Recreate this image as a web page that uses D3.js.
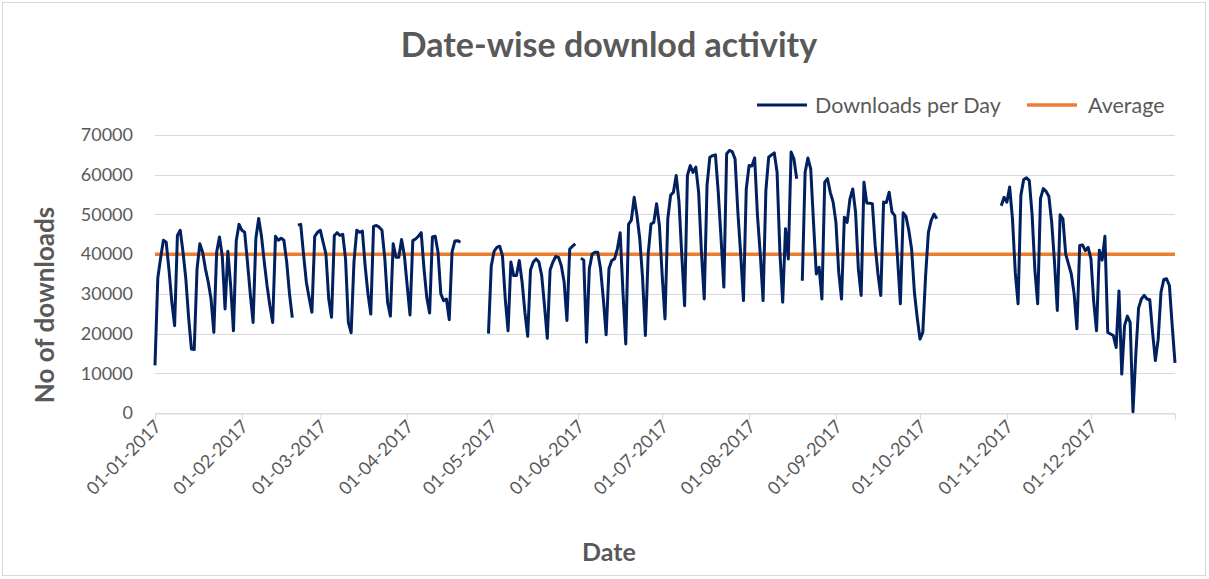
<!DOCTYPE html>
<html>
<head>
<meta charset="utf-8">
<script src="https://cdnjs.cloudflare.com/ajax/libs/d3/7.8.5/d3.min.js"></script>
<style>
  body { margin: 0; background: #fff; }
  #chart text { font-family: Lato, "Open Sans", sans-serif; fill: #595959; }
</style>
</head>
<body>
<svg id="chart" width="1209" height="579"></svg>
<script>
// downloads per day, one array per month (null = no data that day)
var jan = [12000, 34000, 39000, 43500, 43000, 36000, 28000, 22000, 44700, 46000, 40500, 33800, 24000, 16100, 16000, 36300,
           42600, 40500, 36300, 33000, 28700, 20300, 40500, 44300, 39600, 26200, 40700, 32100, 20700, 43400, 47500];
var feb = [46000, 45500, 38000, 30000, 22800, 44000, 49000, 44500, 38000, 32000, 27000, 22800, 44500, 43500,
           44000, 43500, 38000, 30000, 24000, null, 47300, 47500, 40000, 33000, 29000, 25400, 44500, 45500];
var mar = [46000, 43000, 40000, 28700, 24100, 44700, 45400, 44700, 45000, 38800, 22800, 20200, 38000, 46000, 45500,
           45800, 37000, 30000, 24900, 47000, 47200, 46800, 46000, 39000, 27900, 24400, 42600, 39200, 39200, 43700, 39600];
var apr = [32000, 24700, 43400, 43800, 44500, 45400, 36300, 29000, 25200, 44300, 44500, 40500, 30000, 28300, 28700,
           23500, 40500, 43300, 43400, 43000, null, null, null, null, null, null, null, null, null, 20000];
var may = [37000, 40700, 41700, 42000, 39600, 28700, 20700, 38000, 34600, 34600, 38400, 33000, 25400, 19300, 36000,
           38000, 38800, 38000, 34600, 27000, 18800, 36000, 38000, 39400, 39200, 37100, 33000, 23300, 41300, 42000, 42600];
var jun = [null, 39000, 38500, 17800, 36300, 40000, 40500, 40500, 36300, 28700, 19700, 36300, 38400, 38800, 41300,
           45400, 30400, 17400, 47500, 48600, 54300, 49700, 43800, 34000, 19500, 40000, 47600, 48000, 52700, 47200];
var jul = [34600, 23700, 48900, 54800, 55600, 59800, 53100, 39600, 27000, 59800, 62300, 60600, 61900, 55600, 40500,
           28700, 57300, 64400, 64800, 65000, 55600, 44000, 31700, 65300, 66100, 65800, 64000, 50600, 40000, 28300, 56400];
var aug = [62300, 62200, 64200, 49700, 40000, 28300, 56000, 64400, 65000, 65500, 60600, 40500, 27900, 46400, 38800,
           65700, 64000, 59000, null, 33300, 60600, 64200, 61500, 48000, 35000, 36700, 28700, 58100, 59000, 55500, 53100];
var sep = [48000, 35400, 28700, 49300, 48000, 53900, 56400, 50600, 36300, 29600, 58100, 52900, 52800, 52700, 42200,
           35000, 29600, 53100, 53000, 55600, 50600, 49700, 38800, 27500, 50400, 49500, 46000, 41300, 30400, 24000];
var oct = [18600, 20300, 34600, 45500, 48500, 50100, 48900, null, null, null, null, null, null, null, null, null,
           null, null, null, null, null, null, null, null, null, null, null, null, null, 52200, 54300];
var nov = [53100, 56900, 48900, 35400, 27500, 54800, 58800, 59200, 58500, 50000, 36000, 27500, 54000, 56500, 55800,
           54500, 48000, 38000, 25800, 49900, 48900, 40000, 37500, 35000, 30000, 21200, 42200, 42300, 40900, 41700];
var dec = [38800, 28000, 20700, 41000, 38500, 44500, 20300, 19900, 19500, 16500, 30700, 9800, 22000, 24400, 22800,
           300, 14500, 26400, 28700, 29600, 28700, 28500, 20300, 13200, 18600, 30400, 33600, 33800, 32100, 22000, 12600];

var average = 40000;
var yTicks = [0, 10000, 20000, 30000, 40000, 50000, 60000, 70000];
var seriesNames = ['Downloads per Day', 'Average'];

var Chart = Chart || {};

Chart.draw = function(){
  var svg = d3.select('#chart'),
      left = 155,
      right = 1175,
      top = 135,
      bottom = 413,
      blue = '#002060',
      orange = '#ED7D31',
      grid = '#D9D9D9',
      start = new Date(2017, 0, 1);

  var daily = jan.concat(feb, mar, apr, may, jun, jul, aug, sep, oct, nov, dec).map(function(v, i){
    return { date: d3.timeDay.offset(start, i), value: v };
  });
  var end = daily[daily.length - 1].date;

  var x = d3.scaleTime().domain([start, end]).range([left, right]),
      y = d3.scaleLinear().domain([0, 70000]).range([bottom, top]);

  // chart border
  svg.append('rect')
     .attr('x', 2.5)
     .attr('y', 2.5)
     .attr('width', 1203)
     .attr('height', 573)
     .attr('fill', '#fff')
     .attr('stroke', grid);

  // gridlines
  svg.append('g')
     .selectAll('line')
     .data(yTicks)
     .enter()
     .append('line')
     .attr('x1', left)
     .attr('x2', right)
     .attr('y1', function(d){ return Math.round(y(d)) + 0.5; })
     .attr('y2', function(d){ return Math.round(y(d)) + 0.5; })
     .attr('stroke', grid)
     .attr('stroke-width', 1);

  // y labels
  svg.append('g')
     .selectAll('text')
     .data(yTicks)
     .enter()
     .append('text')
     .text(function(d){ return d; })
     .attr('x', 133)
     .attr('y', function(d){ return y(d); })
     .attr('dy', '0.35em')
     .attr('text-anchor', 'end')
     .style('font-size', '18px');

  // x axis
  var months = x.ticks(d3.timeMonth.every(1));
  var xAxis = svg.append('g')
     .attr('transform', 'translate(0,' + (Math.round(bottom) + 0.5) + ')')
     .call(d3.axisBottom(x).tickValues(months).tickSize(6).tickFormat(d3.timeFormat('%d-%m-%Y')));
  xAxis.select('.domain').attr('stroke', grid);
  xAxis.selectAll('.tick line').attr('stroke', grid);
  xAxis.selectAll('.tick text')
       .attr('text-anchor', 'end')
       .attr('x', 0)
       .attr('y', 0)
       .attr('dy', 0)
       .attr('transform', 'translate(7,14) rotate(-45)')
       .style('font-size', '18px')
       .style('fill', '#595959');

  // average
  svg.append('line')
     .attr('x1', x(start))
     .attr('x2', x(end))
     .attr('y1', y(average))
     .attr('y2', y(average))
     .attr('stroke', orange)
     .attr('stroke-width', 3.5);

  // downloads
  var line = d3.line()
     .defined(function(d){ return d.value !== null; })
     .x(function(d){ return x(d.date); })
     .y(function(d){ return y(d.value); });

  svg.append('path')
     .datum(daily)
     .attr('d', line)
     .attr('fill', 'none')
     .attr('stroke', blue)
     .attr('stroke-width', 3)
     .attr('stroke-linejoin', 'round');

  // title
  svg.append('text')
     .text('Date-wise downlod activity')
     .attr('x', 609)
     .attr('y', 57)
     .attr('text-anchor', 'middle')
     .style('font-size', '34px')
     .style('font-weight', 'bold');

  // axis titles
  svg.append('text')
     .text('No of downloads')
     .attr('transform', 'translate(54,' + 305 + ') rotate(-90)')
     .attr('text-anchor', 'middle')
     .style('font-size', '26px')
     .style('font-weight', 'bold');

  svg.append('text')
     .text('Date')
     .attr('x', 609)
     .attr('y', 561)
     .attr('text-anchor', 'middle')
     .style('font-size', '25px')
     .style('font-weight', 'bold');

  // legend
  var legend = svg.append('g');
  legend.append('line')
        .attr('x1', 757).attr('x2', 807).attr('y1', 105).attr('y2', 105)
        .attr('stroke', blue).attr('stroke-width', 3);
  legend.append('text')
        .text(seriesNames[0])
        .attr('x', 815).attr('y', 105).attr('dy', '0.35em')
        .style('font-size', '21.5px');
  legend.append('line')
        .attr('x1', 1027).attr('x2', 1077).attr('y1', 105).attr('y2', 105)
        .attr('stroke', orange).attr('stroke-width', 3.5);
  legend.append('text')
        .text(seriesNames[1])
        .attr('x', 1088).attr('y', 105).attr('dy', '0.35em')
        .style('font-size', '21.5px');
};

Chart.draw();
</script>
</body>
</html>
